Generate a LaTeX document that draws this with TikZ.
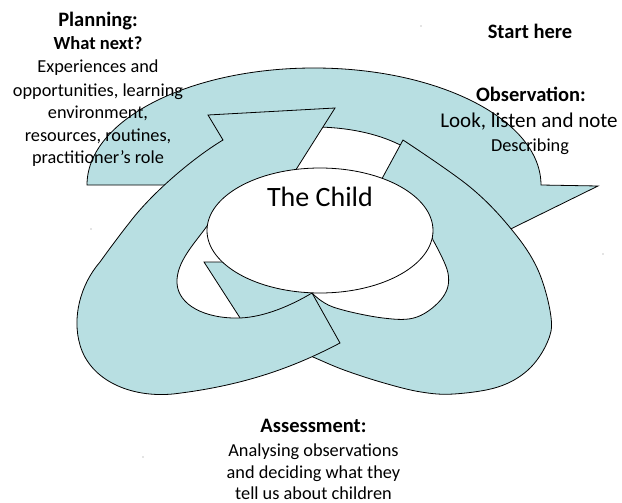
\documentclass[tikz,border=0pt]{standalone}
\usepackage{fontspec}
\setmainfont{Carlito}
\usetikzlibrary{shapes.geometric}
\definecolor{bandfill}{RGB}{184,223,226}
\begin{document}
\begin{tikzpicture}[x=1pt,y=-1pt,
  band/.style={fill=bandfill, draw=black, line width=0.8pt, line join=miter},
  lbl/.style={anchor=base, inner sep=0pt, outer sep=0pt},
  title/.style={lbl, font=\fontsize{20.5}{24}\selectfont\bfseries},
  subtitle/.style={lbl, font=\fontsize{18.5}{22}\selectfont\bfseries},
  body/.style={lbl, font=\fontsize{18.3}{22}\selectfont},
  bigbody/.style={lbl, font=\fontsize{21}{25}\selectfont},
  speck/.style={fill=black!45}]
\useasboundingbox (0,0) rectangle (622,503);

% top arrow: planning -> observation
\path[band] (87,185) -- (195,185)
  arc[start angle=180, end angle=0, x radius=119pt, y radius=58pt]
  -- (410,188) -- (470,249) -- (598,186) -- (541,185)
  arc[start angle=0, end angle=180, x radius=227pt, y radius=117pt] -- cycle;

% right arrow: observation -> assessment
\path[band] (403,140)
  -- plot[smooth, tension=0.6] coordinates {(403,140) (470,187) (512,230) (538,270)
       (551,317) (547,343) (528,370) (498,387) (454,394) (421,392) (384,383)
       (344,370) (313,357) (292,348)}
  -- (262,352) -- (204,262) -- (250,262) -- (272,276)
  -- plot[smooth, tension=0.6] coordinates {(312,293) (333,307) (383,318) (417,317)
       (443,297) (448,273) (433,240)}
  -- (425,215) -- (400,195) -- (378,186) -- cycle;

% left arrow: assessment -> planning
\path[band] (312,293) -- (340,343)
  .. controls (300,364) and (250,385) .. (173,394)
  .. controls (130,398) and (90,380) .. (80,345)
  .. controls (72,318) and (80,285) .. (100,262)
  .. controls (110,248) and (122,232) .. (130,222)
  .. controls (152,193) and (193,158) .. (223,140)
  -- (208,115) -- (335,108) -- (285,187) -- (250,200) -- (215,218) -- (207,226)
  .. controls (195,243) and (176,262) .. (177,283)
  .. controls (178,305) and (205,319) .. (240,318)
  .. controls (265,317) and (292,305) .. (312,293)
  -- cycle;

% the centre
\node[ellipse, draw=black, line width=0.8pt, fill=white, minimum width=226pt,
      minimum height=125pt, inner sep=0pt] (child) at (320,230.5) {};
\node[lbl, font=\fontsize{28}{32}\selectfont] (childlbl) at (320,206) {The Child};

% planning
\node[title]    (plan1) at (98,27)  {Planning:};
\node[subtitle] (plan2) at (98,50)  {What next?};
\node[body]     (plan3) at (98,73)  {Experiences and};
\node[body]     (plan4) at (98,96)  {opportunities, learning};
\node[body]     (plan5) at (98,119) {environment,};
\node[body]     (plan6) at (98,142) {resources, routines,};
\node[body]     (plan7) at (98,164) {practitioner’s role};

% observation
\node[title]   (start) at (530,39)  {Start here};
\node[title]   (obs1)  at (531,102) {Observation:};
\node[bigbody] (obs2)  at (529,128) {Look, listen and note};
\node[body]    (obs3)  at (530,151) {Describing};

% assessment
\node[title] (ass1) at (313.5,432) {Assessment:};
\node[body]  (ass2) at (313.5,456) {Analysing observations};
\node[body]  (ass3) at (313.5,478) {and deciding what they};
\node[body]  (ass4) at (313.5,499) {tell us about children};

% stray specks
\fill[speck] (421,26) circle (0.6pt);
\fill[speck] (91,229) circle (0.6pt);
\fill[speck] (143,457) circle (0.6pt);
\fill[speck] (603,254) circle (0.6pt);
\end{tikzpicture}
\end{document}
